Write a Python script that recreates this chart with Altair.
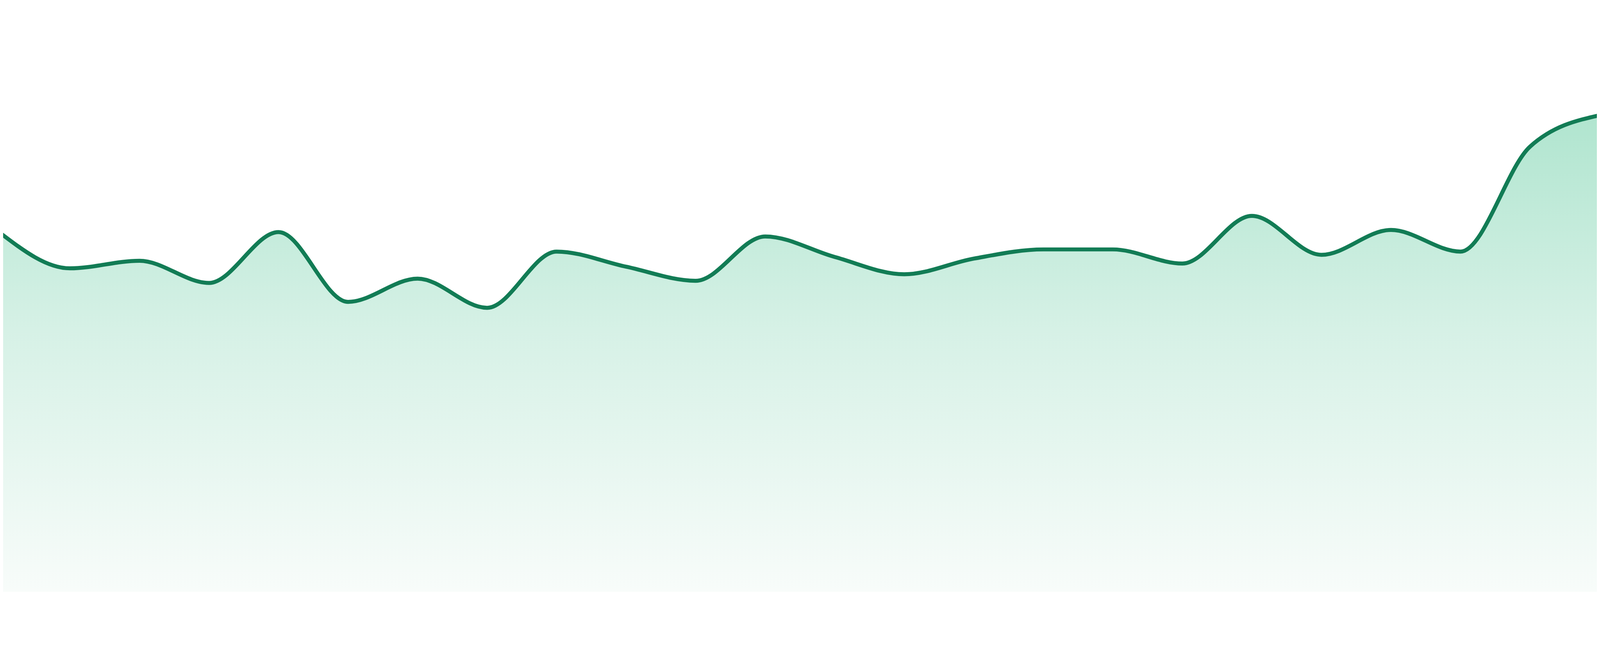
import altair as alt
import pandas as pd

# Series values, one per evenly spaced step
steps = list(range(24))
values = [66.3, 59.8, 61.2, 57.1, 66.5, 53.6, 57.9, 52.5, 62.9, 60.1, 57.5, 65.7,
          61.9, 58.7, 61.6, 63.3, 63.3, 60.7, 69.5, 62.3, 66.9, 62.9, 82.3, 88.1]

df = pd.DataFrame({"step": steps, "value": values})

x_enc = alt.X("step:Q", axis=None,
              scale=alt.Scale(domain=[0.0383, 22.962], nice=False, zero=False))
y_enc = alt.Y("value:Q", axis=None,
              scale=alt.Scale(domain=[-2.46, 100], nice=False))

gradient = alt.Gradient(
    gradient="linear",
    stops=[
        alt.GradientStop(color="#b0e5cf", offset=0),
        alt.GradientStop(color="#d6f1e6", offset=0.45),
        alt.GradientStop(color="#f8fcfa", offset=1),
    ],
    x1=0, x2=0, y1=0, y2=1,
)

area = alt.Chart(df).mark_area(interpolate="monotone", color=gradient, clip=True).encode(x=x_enc, y=y_enc)
line = alt.Chart(df).mark_line(interpolate="monotone", color="#127c55", strokeWidth=12, clip=True).encode(x=x_enc, y=y_enc)

chart = (
    alt.layer(area, line)
    .properties(
        width=4784, height=1664, padding=0,
        autosize=alt.AutoSizeParams(type="fit", contains="padding"),
    )
    .configure_view(stroke=None)
)

chart.save("out.html", embed_options={"renderer": "svg", "actions": False})
